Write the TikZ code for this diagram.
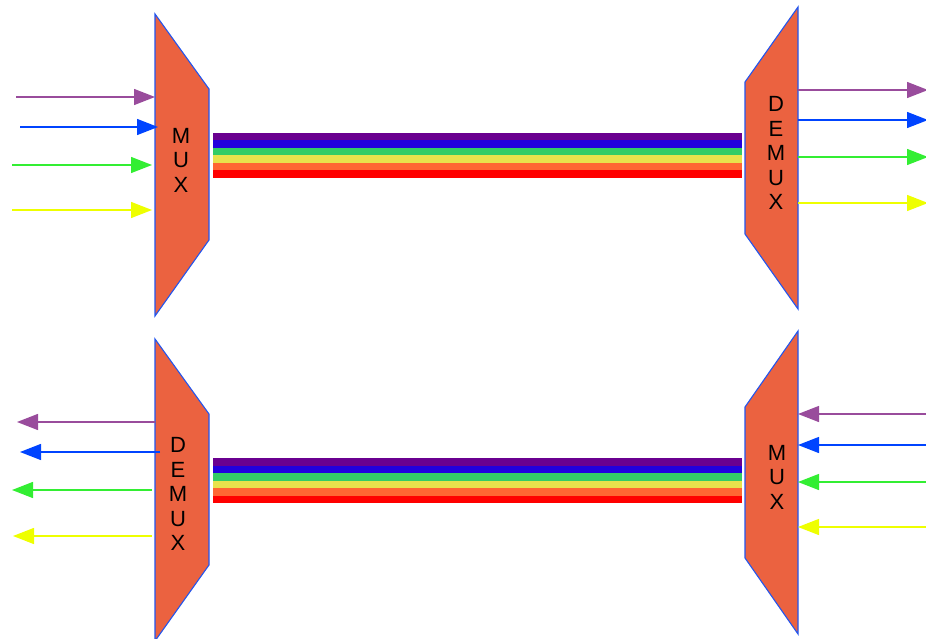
\documentclass[tikz,border=0pt]{standalone}
\usepackage{fontspec}
\setmainfont{Liberation Sans}
\usetikzlibrary{arrows.meta}
\definecolor{lnpurple}{HTML}{994C9C}
\definecolor{lnblue}{HTML}{0044FF}
\definecolor{lngreen}{HTML}{33EE33}
\definecolor{lnyellow}{HTML}{EEFF00}
\definecolor{boxfill}{HTML}{EB6240}
\definecolor{boxline}{HTML}{2255EE}
\definecolor{fbone}{HTML}{6A0090}
\definecolor{fbtwo}{HTML}{2200DD}
\definecolor{fbthree}{HTML}{33CC66}
\definecolor{fbfour}{HTML}{E8E24C}
\definecolor{fbfive}{HTML}{FF6633}
\definecolor{fbsix}{HTML}{FF0000}

\begin{document}
\begin{tikzpicture}[
        x=1pt,
        y=-1pt,
        muxbox/.style={
            fill=boxfill,
            draw=boxline,
            line width=1.1pt,
            line join=miter
        },
        boxlabel/.style={
            align=center,
            inner sep=0pt,
            font=\fontsize{22}{24.5}\selectfont
        },
        signal/.style={
            line width=1.4pt,
            -{Triangle[length=21pt,width=16pt]}
        }
    ]
        \useasboundingbox (0,0) rectangle (926,639);

        % Upper link: MUX on the left, DEMUX on the right.

        \draw[muxbox] (155,14) -- (209,89) -- (209,240) -- (155,316) -- cycle;
        \node[boxlabel] (muxa) at (181,160) {M\\U\\X};

        \draw[muxbox] (798,7) -- (745,82) -- (745,234) -- (798,309) -- cycle;
        \node[boxlabel] (demuxa) at (776,153) {D\\E\\M\\U\\X};

        % fiber stripes, x=213,...,742
        \foreach \c [count=\i from 0] in {fbone,fbtwo,fbthree,fbfour,fbfive,fbsix}
            \fill[\c] (213,133+7.5*\i) rectangle (742,140.5+7.5*\i);

        \foreach \c/\y/\xs/\xe in {
            lnpurple/97/16/155,lnblue/127/20/158,
            lngreen/165/12/152,lnyellow/210/12/152
        }{
            \coordinate (ina-\c) at (\xs,\y);
            \coordinate (muxa-\c) at (\xe,\y);
            \draw[signal, \c] (ina-\c) -- (muxa-\c);
        }

        \foreach \c/\y in {
            lnpurple/90,lnblue/120,lngreen/157,lnyellow/203
        }{
            \coordinate (demuxa-\c) at (798,\y);
            \coordinate (outa-\c) at (928,\y);
            \draw[signal, \c] (demuxa-\c) -- (outa-\c);
        }

        % Lower link: DEMUX on the left, MUX on the right.

        \draw[muxbox] (155,339) -- (209,414) -- (209,565) -- (155,641) -- cycle;
        \node[boxlabel] (demuxb) at (178,494) {D\\E\\M\\U\\X};

        \draw[muxbox] (798,331) -- (745,407) -- (745,558) -- (798,634) -- cycle;
        \node[boxlabel] (muxb) at (777,477) {M\\U\\X};

        % fiber stripes, x=213,...,742
        \foreach \c [count=\i from 0] in {fbone,fbtwo,fbthree,fbfour,fbfive,fbsix}
            \fill[\c] (213,458+7.5*\i) rectangle (742,465.5+7.5*\i);

        \foreach \c/\y/\xs/\xe in {
            lnpurple/422/155/17,lnblue/452/160/20,
            lngreen/490/152/12,lnyellow/536/152/13
        }{
            \coordinate (demuxb-\c) at (\xs,\y);
            \coordinate (outb-\c) at (\xe,\y);
            \draw[signal, \c] (demuxb-\c) -- (outb-\c);
        }

        \foreach \c/\y in {
            lnpurple/414,lnblue/445,lngreen/482,lnyellow/527
        }{
            \coordinate (inb-\c) at (926,\y);
            \coordinate (muxb-\c) at (798,\y);
            \draw[signal, \c] (inb-\c) -- (muxb-\c);
        }
    \end{tikzpicture}
\end{document}
